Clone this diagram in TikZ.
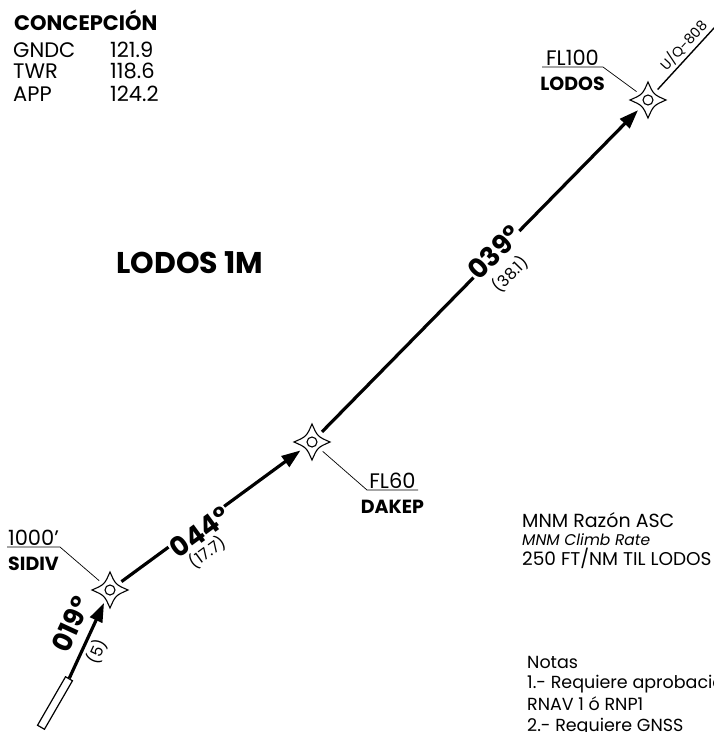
\documentclass[tikz,border=0pt]{standalone}
\usepackage{fontspec}
\setmainfont{Poppins}
\usetikzlibrary{arrows.meta,positioning}
\tikzset{
wp/.style={circle, minimum size=28pt, inner sep=0pt},
wpstar/.pic={
  \draw[line width=1.1pt] (18,0) .. controls (5.5,5.5) .. (0,18) .. controls (-5.5,5.5) .. (-18,0)
     .. controls (-5.5,-5.5) .. (0,-18) .. controls (5.5,-5.5) .. cycle;
  \draw[line width=1.1pt] (0,0) circle (5);},
rwy/.style={rectangle, draw, line width=1.2pt, minimum width=56pt, minimum height=8pt, inner sep=0pt},
route/.style={line width=3.2pt,-{Triangle[length=19pt,width=13pt]}},
leg/.style={line width=1.4pt},
leader/.style={line width=.7pt},
crs/.style={font=\bfseries\fontsize{27}{27}\selectfont, fill=white, inner sep=1pt},
dist/.style={font=\fontsize{16}{16}\selectfont, inner sep=0pt},
alt/.style={font=\fontsize{21}{21}\selectfont, inner sep=1pt},
fixname/.style={font=\bfseries\fontsize{19}{19}\selectfont, inner sep=1pt},
txt/.style={font=\fontsize{19}{19}\selectfont, inner sep=0pt, anchor=base west},
freq/.style={font=\fontsize{21}{21}\selectfont, inner sep=0pt, anchor=base west},
note/.style={font=\fontsize{17.5}{17.5}\selectfont, inner sep=0pt, anchor=base west}}

\begin{document}
\begin{tikzpicture}[x=1pt,y=-1pt]
\useasboundingbox (0,0) rectangle (714,732);
\clip (0,0) rectangle (714,732);

% frequencies
\node (conc) [freq, font=\bfseries\fontsize{21}{21}\selectfont] at (14,30) {CONCEPCIÓN};
\node (gndc) [freq] at (13,57) {GNDC};
\node (gndcf) [freq] at (110,57) {121.9};
\node (twr) [freq] at (13,78) {TWR};
\node (twrf) [freq] at (110,78) {118.6};
\node (app) [freq] at (13,101) {APP};
\node (appf) [freq] at (110,101) {124.2};

\node (proc) [font=\bfseries\fontsize{30}{30}\selectfont] at (190,263) {LODOS 1M};

% fixes
\node (sidiv) [wp] at (110,590) {};
\node (dakep) [wp] at (312,442) {};
\node (lodos) [wp] at (648,100) {};
\foreach \f in {sidiv,dakep,lodos} \pic at (\f) {wpstar};
\node (rwy) [rwy, rotate=60] at (55,703) {};
\coordinate (uq) at (748,-9);

\coordinate (sidivk) at (60,547);
\coordinate (sidivl) at (7,547);
\coordinate (dakepk) at (367,490);
\coordinate (dakepl) at (418,490);
\coordinate (lodosk) at (603,67);
\coordinate (lodosl) at (542,67);

% legs
\draw [route] (rwy.east) -- node[crs, fill=none, sloped, pos=.6, yshift=21pt] {019°}
  node[dist, sloped, pos=.43, yshift=-14.4pt] {(5)} (sidiv);
\draw [route] (sidiv) -- node[crs, sloped, pos=.418, yshift=-6pt] {044°}
  node[dist, sloped, pos=.39, yshift=-27pt] {(17.7)} (dakep);
\draw [route] (dakep) -- node[crs, sloped, pos=.552, yshift=3pt] {039°}
  node[dist, sloped, pos=.542, yshift=-24pt] {(38.1)} (lodos);
\draw [leg] (lodos) -- node[dist, font=\fontsize{14}{14}\selectfont, sloped, pos=.375, yshift=11pt] {U/Q-808} (uq);

% fix labels
\draw [leader] (sidiv) -- (sidivk) -- node[alt, above] {1000'} node[fixname, below=9pt] {SIDIV} (sidivl);
\draw [leader] (dakep) -- (dakepk) -- node[alt, above] {FL60} node[fixname, below=9pt] {DAKEP} (dakepl);
\draw [leader] (lodos) -- (lodosk) -- node[alt, above] {FL100} node[fixname, below=9pt] {LODOS} (lodosl);

% climb rate
\node (mnm) [txt] at (522,527) {MNM Razón ASC};
\node (mnmen) [txt, font=\itshape\fontsize{15.5}{15.5}\selectfont] at (522,545) {MNM Climb Rate};
\node (mnmrate) [txt, font=\fontsize{18.5}{18.5}\selectfont] at (522,565) {250 FT/NM TIL LODOS};

% notes
\node (notas) [note] at (527,668) {Notas};
\node (nota1) [note] at (527,688) {1.- Requiere aprobación};
\node (nota1b) [note] at (527,710) {RNAV 1 ó RNP1};
\node (nota2) [note] at (527,731) {2.- Requiere GNSS};
\end{tikzpicture}
\end{document}
